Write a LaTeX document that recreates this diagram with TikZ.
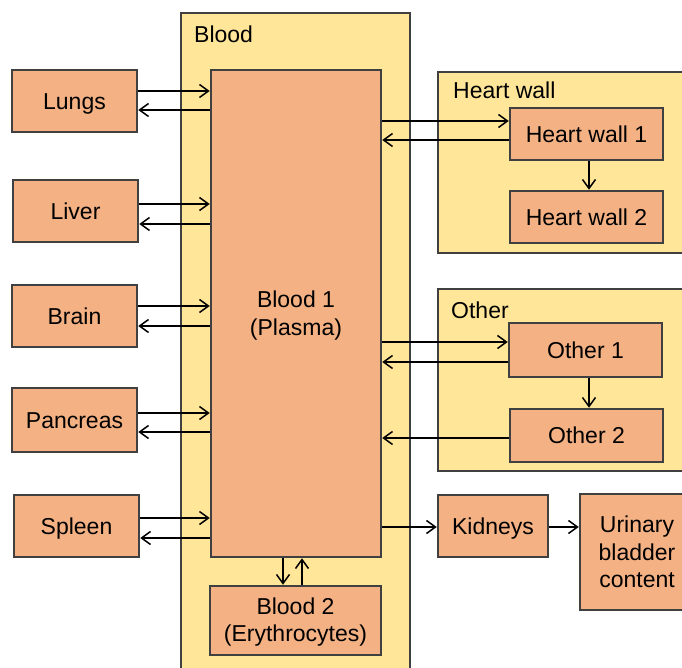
\documentclass[tikz,border=0pt]{standalone}
\usepackage{fontspec}
\setmainfont{Liberation Sans}
\usetikzlibrary{arrows.meta}
\definecolor{yel}{HTML}{FFE699}
\definecolor{org}{HTML}{F4B183}
\definecolor{brd}{HTML}{404040}
\begin{document}
\begin{tikzpicture}[x=1pt,y=-1pt,
 cont/.style={draw=brd,fill=yel,line width=2.5pt,inner sep=0pt},
 box/.style={draw=brd,fill=org,line width=2.5pt,align=center,inner sep=0pt,font=\fontsize{23}{27.5}\selectfont},
 one/.style={text height=16.5pt,text depth=0pt},
 wh/.style 2 args={minimum width=#1pt,minimum height=#2pt},
 lbl/.style={anchor=base west,inner sep=0pt,font=\fontsize{23}{27.5}\selectfont},
 arr/.style={-{Straight Barb[length=9pt,width=13pt]},line width=1.5pt}]
\useasboundingbox (0,0) rectangle (682,668);
\clip (0,0) rectangle (682,668);
% containers
\node[cont,wh={229}{667}] (bloodc) at (295.5,346.5) {};
\node[cont,wh={262}{181}] (heartc) at (569,162.5) {};
\node[cont,wh={262}{182}] (otherc) at (569,380) {};
\node[lbl] (bloodl) at (194,43) {Blood};
\node[lbl] (heartl) at (453,99) {Heart wall};
\node[lbl] (otherl) at (451,318) {Other};
% boxes
\node[box,one,wh={125}{62}] (lungs) at (74.5,101) {Lungs};
\node[box,one,wh={125}{62}] (liver) at (75.5,211) {Liver};
\node[box,one,wh={125}{62}] (brain) at (74.5,316) {Brain};
\node[box,one,wh={125}{64}] (pancreas) at (74.5,420) {Pancreas};
\node[box,one,wh={125}{62}] (spleen) at (76.5,526) {Spleen};
\node[box,wh={170}{487}] (b1) at (296,313.5) {};
\node[align=center,inner sep=0pt,font=\fontsize{23}{27.5}\selectfont] (b1t) at (296,315.5) {Blood 1\\(Plasma)};
\node[box,wh={171}{69}] (b2) at (295.5,620.5) {};
\node[align=center,inner sep=0pt,font=\fontsize{23}{27.5}\selectfont] (b2t) at (295.5,622) {Blood 2\\(Erythrocytes)};
\node[box,one,wh={153}{52}] (hw1) at (586.5,134) {Heart wall 1};
\node[box,one,wh={153}{52}] (hw2) at (586.5,217) {Heart wall 2};
\node[box,one,wh={153}{54}] (o1) at (585.5,350) {Other 1};
\node[box,one,wh={153}{53}] (o2) at (586.5,435.5) {Other 2};
\node[box,one,wh={110}{62}] (kid) at (493,526) {Kidneys};
\node[box,wh={114}{116}] (uri) at (637,552) {Urinary\\bladder\\content};
% arrow levels
\coordinate (y1) at (0,91);  \coordinate (y2) at (0,110);
\coordinate (y3) at (0,204); \coordinate (y4) at (0,224);
\coordinate (y5) at (0,306); \coordinate (y6) at (0,326);
\coordinate (y7) at (0,413); \coordinate (y8) at (0,432);
\coordinate (y9) at (0,518); \coordinate (y10) at (0,538);
\coordinate (r1) at (0,121); \coordinate (r2) at (0,140);
\coordinate (r3) at (0,342); \coordinate (r4) at (0,362);
\coordinate (r5) at (0,438); \coordinate (r6) at (0,527);
\coordinate (xd) at (589,0);
\coordinate (xb1) at (283,0); \coordinate (xb2) at (302,0);
% left arrows
\draw[arr] (lungs.east |- y1) -- (b1.west |- y1);
\draw[arr] (b1.west |- y2) -- (lungs.east |- y2);
\draw[arr] (liver.east |- y3) -- (b1.west |- y3);
\draw[arr] (b1.west |- y4) -- (liver.east |- y4);
\draw[arr] (brain.east |- y5) -- (b1.west |- y5);
\draw[arr] (b1.west |- y6) -- (brain.east |- y6);
\draw[arr] (pancreas.east |- y7) -- (b1.west |- y7);
\draw[arr] (b1.west |- y8) -- (pancreas.east |- y8);
\draw[arr] (spleen.east |- y9) -- (b1.west |- y9);
\draw[arr] (b1.west |- y10) -- (spleen.east |- y10);
% right arrows
\draw[arr] (b1.east |- r1) -- (hw1.west |- r1);
\draw[arr] (hw1.west |- r2) -- (b1.east |- r2);
\draw[arr] (b1.east |- r3) -- (o1.west |- r3);
\draw[arr] (o1.west |- r4) -- (b1.east |- r4);
\draw[arr] (o2.west |- r5) -- (b1.east |- r5);
\draw[arr] (b1.east |- r6) -- (kid.west |- r6);
\draw[arr] (kid.east |- r6) -- (uri.west |- r6);
\draw[arr] (hw1.south -| xd) -- (hw2.north -| xd);
\draw[arr] (o1.south -| xd) -- (o2.north -| xd);
\draw[arr] (b1.south -| xb1) -- (b2.north -| xb1);
\draw[arr] (b2.north -| xb2) -- (b1.south -| xb2);
\end{tikzpicture}
\end{document}
